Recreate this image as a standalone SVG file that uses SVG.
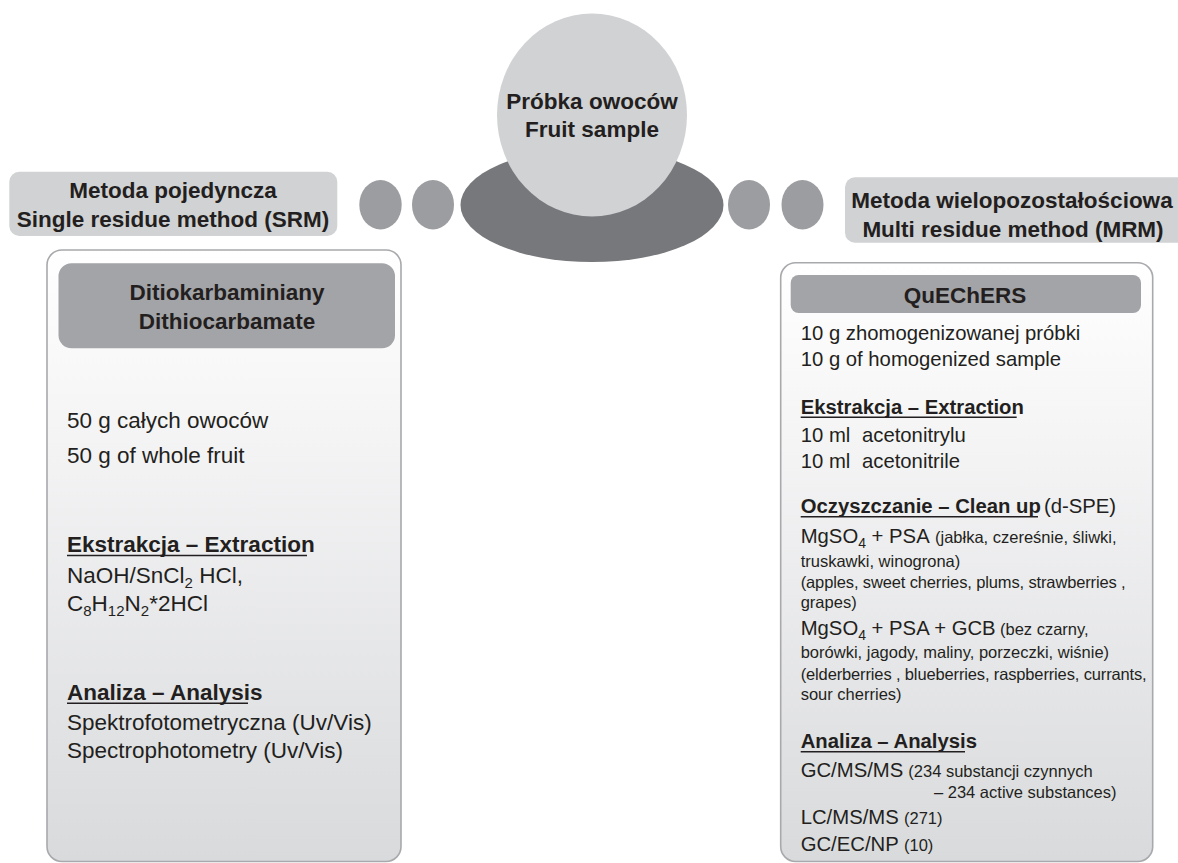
<svg xmlns="http://www.w3.org/2000/svg" width="1178" height="863" viewBox="0 0 1178 863">
<defs>
<linearGradient id="boxGrad" x1="0" y1="0" x2="0" y2="1">
<stop offset="0" stop-color="#ffffff"/>
<stop offset="0.25" stop-color="#f6f6f7"/>
<stop offset="1" stop-color="#d9dadc"/>
</linearGradient>
<style>
text{font-family:"Liberation Sans",Arial,sans-serif;fill:#231f20}
.hb{font-weight:bold;font-size:22.5px;text-anchor:middle}
.l{font-size:22.5px}
.lb{font-size:22.5px;font-weight:bold}
.r{font-size:20.3px}
.rb{font-size:20.3px;font-weight:bold}
.s{font-size:16.5px}
.ul{stroke:#231f20;stroke-width:1.4}
.label{fill:#d1d2d4}
.head{fill:#a3a4a7}
.box{fill:url(#boxGrad);stroke:#a8a9ac;stroke-width:1.6}
.dot{fill:#9c9da0}
</style>
</defs>
<rect width="1178" height="863" fill="#ffffff"/>

<g id="connectors">
<ellipse class="dot" cx="380.5" cy="204.7" rx="21.2" ry="24.7"/>
<ellipse class="dot" cx="433" cy="204.7" rx="21" ry="24.7"/>
<ellipse class="dot" cx="749" cy="204.7" rx="21" ry="24.7"/>
<ellipse class="dot" cx="802.5" cy="204.7" rx="21" ry="24.7"/>
</g>

<g id="sample">
<ellipse cx="592" cy="205" rx="131.5" ry="57" fill="#77787b"/>
<ellipse cx="592" cy="115" rx="95" ry="101.5" fill="#d1d2d4"/>
<text class="hb" x="592" y="109.3">Próbka owoców</text>
<text class="hb" x="592" y="137.3">Fruit sample</text>
</g>

<g id="label-srm">
<rect class="label" x="9.3" y="171.7" width="328" height="64.3" rx="10"/>
<text class="hb" x="173" y="198.3">Metoda pojedyncza</text>
<text class="hb" x="173" y="227.3">Single residue method (SRM)</text>
</g>

<g id="label-mrm">
<rect class="label" x="845" y="177.3" width="345" height="65.4" rx="10"/>
<text class="hb" x="1012" y="208.3">Metoda wielopozostałościowa</text>
<text class="hb" x="1013" y="236.7">Multi residue method (MRM)</text>
</g>

<g id="box-srm">
<rect class="box" x="47" y="250" width="354" height="611.5" rx="15"/>
<rect class="head" x="58.5" y="263.3" width="336.5" height="85" rx="13"/>
<text class="hb" x="227" y="300">Ditiokarbaminiany</text>
<text class="hb" x="227" y="329">Dithiocarbamate</text>
<text class="l" x="67" y="428">50 g całych owoców</text>
<text class="l" x="67" y="463">50 g of whole fruit</text>
<text class="lb" x="67" y="552">Ekstrakcja – Extraction</text>
<line class="ul" x1="67" y1="555.5" x2="307" y2="555.5"/>
<text class="l" x="67" y="582.5">NaOH/SnCl<tspan font-size="15" dy="5">2</tspan><tspan dy="-5"> HCl,</tspan></text>
<text class="l" x="67" y="611">C<tspan font-size="15" dy="5">8</tspan><tspan dy="-5">H</tspan><tspan font-size="15" dy="5">12</tspan><tspan dy="-5">N</tspan><tspan font-size="15" dy="5">2</tspan><tspan dy="-5">*2HCl</tspan></text>
<text class="lb" x="67" y="700">Analiza – Analysis</text>
<line class="ul" x1="67" y1="703.3" x2="248" y2="703.3"/>
<text class="l" x="67" y="730">Spektrofotometryczna (Uv/Vis)</text>
<text class="l" x="67" y="758">Spectrophotometry (Uv/Vis)</text>
</g>

<g id="box-mrm">
<rect class="box" x="780.7" y="262.7" width="372" height="598.8" rx="15"/>
<rect class="head" x="790.7" y="275" width="350.3" height="38" rx="8"/>
<text class="hb" x="965" y="303.3">QuEChERS</text>
<text class="r" x="800.7" y="339.5">10 g zhomogenizowanej próbki</text>
<text class="r" x="800.7" y="366">10 g of homogenized sample</text>
<text class="rb" x="800.7" y="414">Ekstrakcja – Extraction</text>
<line class="ul" x1="800.7" y1="417.3" x2="1016.7" y2="417.3"/>
<text class="r" x="800.7" y="442">10 ml<tspan x="862">acetonitrylu</tspan></text>
<text class="r" x="800.7" y="468.3">10 ml<tspan x="862">acetonitrile</tspan></text>
<text class="rb" x="800.7" y="513.3">Oczyszczanie – Clean up<tspan class="r" font-weight="normal" x="1044">(d-SPE)</tspan></text>
<line class="ul" x1="800.7" y1="516.7" x2="1038" y2="516.7"/>
<text class="r" x="800.7" y="542.5">MgSO<tspan font-size="14" dy="5">4</tspan><tspan dy="-5"> + PSA</tspan><tspan class="s" x="935">(jabłka, czereśnie, śliwki,</tspan></text>
<text class="s" x="800.7" y="566.5">truskawki, winogrona)</text>
<text class="s" x="800.7" y="588.3" textLength="325" lengthAdjust="spacing">(apples, sweet cherries, plums, strawberries ,</text>
<text class="s" x="800.7" y="607.5">grapes)</text>
<text class="r" x="800.7" y="635">MgSO<tspan font-size="14" dy="5">4</tspan><tspan dy="-5"> + PSA + GCB</tspan><tspan class="s" x="1000">(bez czarny,</tspan></text>
<text class="s" x="800.7" y="658">borówki, jagody, maliny, porzeczki, wiśnie)</text>
<text class="s" x="800.7" y="680" textLength="346" lengthAdjust="spacing">(elderberries , blueberries, raspberries, currants,</text>
<text class="s" x="800.7" y="700">sour cherries)</text>
<text class="rb" x="800.7" y="748">Analiza – Analysis</text>
<line class="ul" x1="800.7" y1="751.7" x2="965" y2="751.7"/>
<text class="r" x="800.7" y="776.7">GC/MS/MS<tspan class="s" x="908.3">(234 substancji czynnych</tspan></text>
<text class="s" x="934" y="798.3">– 234 active substances)</text>
<text class="r" x="800.7" y="824">LC/MS/MS<tspan class="s" x="904">(271)</tspan></text>
<text class="r" x="800.7" y="851">GC/EC/NP<tspan class="s" x="904">(10)</tspan></text>
</g>
</svg>
